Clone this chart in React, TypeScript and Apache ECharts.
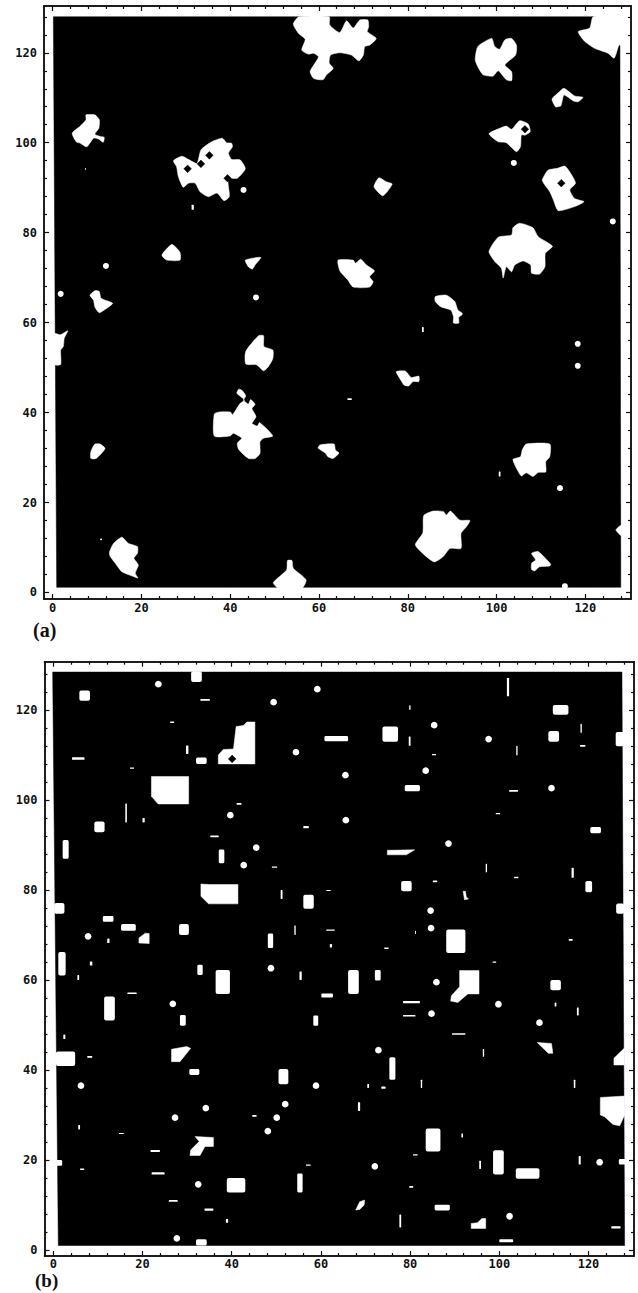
import React, { useEffect, useRef } from "react";
import * as echarts from "echarts";

type Pt = number[];

const majorTicks = [0, 20, 40, 60, 80, 100, 120];
const minorTicks = [4, 8, 12, 16, 24, 28, 32, 36, 44, 48, 52, 56, 64, 68, 72, 76, 84, 88, 92, 96, 104, 108, 112, 116, 124, 128];

const plateA: Pt[] = [[0.15, 128], [127.8, 128], [128, 1.15], [0.9, 1.15]];
const plateB: Pt[] = [[-0.14, 128.4], [127.5, 128.4], [128.1, 1], [1.13, 1]];

const blobsA: Pt[][] = [
  [[7.5,106.2],[9.5,106.2],[10.5,105.1],[10.4,103.2],[9.5,101.9],[10.7,101.4],[11.6,101.2],[11.4,100.1],[10.4,100.8],[9.2,101],[7.7,99.1],[6.2,99.9],[5.3,100.2],[4.4,102.1],[6.2,103.7],[7.5,105.1]],
  [[27.2,96],[29.1,97],[30.6,96.3],[32.5,95.4],[33.4,98.4],[35.8,100.2],[38.2,101],[39.2,100],[40.3,99.9],[40.5,99.1],[39.6,97.7],[40.3,96.3],[42.2,96.2],[43.4,94.2],[41.6,92.1],[40,92.1],[39.5,91.3],[39.8,88],[38.6,87.1],[37,88.8],[35.1,88],[33.2,89.1],[32.1,91],[30.6,91],[29.4,90.1],[28.3,92.5],[27.9,94.7]],
  [[24.6,75],[26.8,77.4],[28,76.5],[28.7,75.6],[28.7,73.9],[25.7,73.9]],
  [[43.4,73.9],[46.9,74.5],[45.6,72.8],[45,71.9],[44.1,72.4]],
  [[8.4,66.1],[9.5,67.1],[10.5,66.9],[10.9,65.4],[13.5,64.3],[12.2,63.2],[10.5,62.2],[9.5,63.5],[9.2,65]],
  [[62.3,128],[62.4,126.2],[64.7,124.5],[66.2,127.1],[67.7,125.5],[69.2,127.3],[71,127.3],[71.2,125.8],[70.9,124.7],[72.9,123.2],[71.4,121.7],[70.3,121.4],[70,119.5],[69,118.2],[67.3,119.5],[64.7,120],[62.6,119.5],[62.3,117.7],[63.2,116.5],[61.7,115.1],[60.9,114],[58.8,114.3],[58,115.8],[59.1,117.7],[59.9,119.1],[58.8,119.9],[57.6,119.7],[56.1,120.6],[56.9,123],[55.4,124.3],[54.2,126.4],[55.5,128]],
  [[95.8,121.4],[98.9,123.2],[99.6,121.4],[100.7,120.8],[101.9,122.9],[103.4,123.2],[104.5,121.7],[104.3,119.5],[101.9,117.3],[103.4,115.8],[103.4,113.8],[102.2,114],[100.4,116],[99.2,114.8],[97,115.1],[96,116.5],[95.2,118.4]],
  [[118.4,124.7],[121,125.5],[121.8,128],[128.4,128],[128.4,121.7],[127.6,121.7],[126.5,118.8],[125.1,119.9],[122.1,121],[119.9,122.5]],
  [[112.5,109.7],[113.9,111.1],[115.2,112.1],[117.6,110.4],[119.5,110.1],[118.4,109.1],[117.3,109.3],[115.2,110.6],[114.5,108.2],[113.3,108]],
  [[98.3,102],[100.7,103.2],[102.2,103.7],[103.4,103],[105.2,104.9],[107.1,104.2],[107.6,102.5],[106.5,101.7],[105.6,101.7],[105.4,99.1],[104.5,98],[102.2,100],[100.4,100.2]],
  [[110.3,91.7],[111.6,93.9],[113.7,94.3],[115.4,94.8],[116.7,93.2],[117.8,91],[116.5,89.5],[117.6,87.6],[119.7,86.9],[117.6,85.8],[113.9,84.9],[112.8,87.3],[112,89.1],[110.9,90.6]],
  [[98.3,75.8],[100.4,79],[103.4,79.5],[103.7,81.1],[105.2,82.1],[108.2,81.1],[109.4,79.1],[112.6,77],[111,75.4],[110.9,72.4],[109.7,70.8],[107.9,71],[107.7,72.8],[106,73.7],[104.1,72.8],[103.4,71.3],[102.2,72.4],[101.5,69.9],[101.1,72.1],[99.6,73.6]],
  [[72.4,90.2],[73.5,92.2],[75.2,91.3],[76.5,90.8],[74.4,88.2]],
  [[64.3,73.9],[67.7,73.9],[68.2,73.2],[69.4,74.1],[70.7,72.8],[72.5,71.5],[71.4,70.2],[72.2,69.1],[71.4,67.9],[67.7,67.9],[66.5,69.5],[64.7,71.5]],
  [[86.2,64.7],[86.2,65.8],[88.7,66.1],[90.6,64.7],[91.3,62.8],[92.3,62.1],[92.2,61.7],[91.5,61.2],[91.5,59.9],[90.3,59.9],[90.3,61.3],[89.7,62.8],[87.5,63.5]],
  [[0.3,57.6],[1.7,57.3],[3.4,58.2],[2.6,56.5],[2.4,54.7],[1.8,53.9],[1.8,50.7],[0.4,50.7]],
  [[43.5,53.6],[46.4,57.1],[47.5,57.1],[47.6,54.7],[49.6,53.9],[49.6,52],[48.6,50.2],[47.5,49.3],[46,50.6],[43.5,50.8]],
  [[36.4,39.7],[37.3,40.1],[40.1,40.1],[40.5,39.5],[42.2,42],[43.2,42.8],[41.5,44.3],[41.9,45.2],[42.6,45],[43.5,43.7],[43,42.8],[44.1,41.9],[44.6,42.9],[45.6,41.8],[44.9,40.9],[45.8,39.1],[44.9,37.6],[46.1,37],[46.6,37.8],[49.6,34.8],[47.5,34.3],[46.7,33.5],[46.7,30.9],[45.6,29.8],[44.1,29.8],[41.9,31.8],[41.6,33.2],[42.6,34.3],[40.7,35.4],[40,34.8],[36.4,34.8]],
  [[8.6,31.3],[9.5,33],[10.7,33],[11.8,32],[9.8,29.8],[8.6,29.8]],
  [[12.8,9],[13.7,10.9],[15.6,12.3],[17.1,10.9],[19.1,10.2],[19.1,8.7],[18.3,7.6],[19.3,6.1],[18.6,4.3],[19.2,3.2],[17.8,3.7],[15.6,4.6],[14.1,6.5],[12.9,8.1]],
  [[49.7,2.2],[52.7,5],[52.9,7.1],[53.9,7.1],[54.2,5.4],[57.1,2.8],[56.1,0.9],[50.9,0.9]],
  [[59.8,32.1],[60.2,32.8],[63.4,33],[63.7,31.7],[64.5,31],[63.2,29.8],[62,30.2],[61.4,31]],
  [[77.4,49.1],[79.5,49.2],[80.8,47.8],[82.5,48.1],[82.5,46.9],[81.2,46.9],[80.2,45.9],[79.2,46.1],[78.2,47.6]],
  [[103.7,29.6],[105.4,30.2],[105.8,31.7],[106.7,33],[112,33],[112,30.2],[111.1,29.1],[111.1,26.8],[109.4,26.7],[108.2,25.8],[106.7,26.6],[105.6,25.9],[104.5,27.6]],
  [[81.7,10.6],[83.4,13.3],[83.6,17.1],[85.7,18.1],[88,18],[88.7,17.2],[89.6,18.1],[91.7,16.1],[94,16],[93.2,14.6],[92,13.1],[92,9.8],[89.5,9.8],[88,8],[86,6.8],[83.8,8.3]],
  [[107.9,8.7],[109.4,9.1],[112.2,6.3],[112,5.9],[109.7,5.7],[108.6,4.8],[107.9,5.1],[107.9,6.5],[108.8,7.2]],
  [[126.9,13.9],[128.2,15],[128.2,12.6]],
];
const holesA: Pt[] = [[30.4,94.2],[33.4,95.3],[35.3,97.2],[39.4,92.1],[106.4,103],[114.6,91]];
const dotsA: Pt[] = [[43,89.5],[12,72.6],[1.8,66.4],[45.8,65.6],[103.9,95.5],[126.2,82.5],[118.3,55.3],[118.3,50.4],[114.3,23.2],[115.4,1.4]];
const barsA: Pt[] = [[31.3,86.2,31.8,85.1],[83.2,59,83.6,57.9],[66.4,43.2,67.4,42.8],[100.5,26.9,100.9,25.8],[7.3,94.4,7.5,94],[10.7,12,11.1,11.6]];

const blobsB: Pt[][] = [
  [[22,105.2],[30.35,105.2],[30.35,99.1],[23.5,99.1],[22,100.8]],
  [[37,110],[38.1,111.2],[40.4,111.3],[41,116.3],[42.6,116.5],[43.4,117.3],[45.2,117.3],[45.2,108],[37,108]],
  [[33.1,81.3],[35.1,81.2],[41.4,81.2],[41.4,76.9],[34.8,76.9],[33.1,78.6]],
  [[19.2,68.2],[19.2,69.3],[20.6,70.4],[21.5,70.3],[21.5,68.1]],
  [[26.5,44.6],[29.9,45.2],[30.8,44.8],[28.4,41.85],[26.5,41.85]],
  [[31.8,25.2],[35.9,25],[35.9,23],[34,23],[32.9,21],[30.65,21],[30.8,22.2],[32.7,24.1]],
  [[74.9,88.8],[81,88.9],[79.15,87.8],[74.9,87.8]],
  [[91.9,79.7],[92.4,79.7],[92.6,78.4],[93.1,78],[92.2,77.8]],
  [[91.1,62.07],[95.45,62.07],[95.45,56.9],[92.95,56.9],[90.7,55],[89.1,55.3],[89.25,56.5],[91.1,58.5]],
  [[108.5,46.1],[111.7,45.9],[112,43.7],[111,43.7]],
  [[125.7,41.1],[125.7,42.6],[128,44.8],[128,41.1]],
  [[122.65,33.9],[128.1,34.2],[128.1,30],[127,27.6],[125.5,27.9],[123.6,29.6],[122.65,30]],
  [[67.8,8.9],[68.7,10.7],[69.8,11.1],[69.7,10],[68.7,9]],
  [[93.7,5.9],[95.1,6.07],[96.1,7],[96.95,7],[96.95,4.8],[93.7,4.8]],
];
const holesB: Pt[] = [[40.1,109.1]];
const dotsB: Pt[] = [
  [23.55,125.7],[49.4,121.7],[54.4,110.6],[39.7,96.6],[45.5,89.4],[42.7,85.5],[7.8,69.7],[59.2,124.6],[48.8,62.6],
  [26.8,54.7],[6.2,36.5],[58.9,36.5],[52,32.4],[34.2,31.5],[27.3,29.4],[50.1,29.4],[48.1,26.4],[27.7,2.6],[32.5,14.6],
  [85.4,116.6],[97.6,113.5],[83.5,106.5],[65.5,105.5],[111.7,102.6],[65.6,95.5],[88.6,90.3],[84.6,75.4],[84.7,71.5],
  [85.9,59.5],[99.8,54.6],[84.8,52.5],[109,50.5],[72.9,44.4],[72.1,18.6],[122.5,19.5],[102.3,7.5],
];
const barsB: Pt[] = [
  [30.9,128.6,33.3,126.2],[5.84,124.3,8.23,122],[32.97,122.4,35.1,122],[26.2,117.4,27.1,117.1],[29.75,112.1,30.3,110.2],
  [4.2,109.5,7,108.9],[17.2,107.2,18.1,106.9],[32,109.4,34.4,108],[41.1,99.3,42.2,98.9],[16.15,99.2,16.5,95],[20,96,20.5,95],
  [9.2,95.2,11.5,92.8],[2.1,91.1,3.45,86.9],[35.2,92.1,37.1,91.7],[37.1,89,38.35,85.9],[49,85.2,50.2,84.9],[56.06,94.2,57.3,93.7],
  [50.98,80,51.4,78],[56.06,78.9,58.4,75.8],[0.2,77.1,2.5,74.7],[11.1,74.2,13.5,72.9],[15.2,72.4,18.5,70.9],[28.2,72.4,30.4,70],
  [12.1,69.2,12.6,68.2],[48.1,70.3,49.3,67.1],[54.05,72.1,54.35,70],[1.13,66.2,2.77,60.96],[8.2,64.1,8.75,63.2],[32.3,63.4,33.5,61.1],
  [5.4,61.1,5.8,60],[36.4,62.2,39.6,56.9],[16.6,57.2,18.7,56.9],[55.2,61.85,55.7,60],[11.4,56.3,13.8,51],[28.4,52.2,29.7,49.85],
  [58.3,52.1,59.4,49.8],[2.25,47.9,2.7,46.9],[0.6,44.1,4.9,40.9],[7.6,43.1,8.75,42.7],[30.5,40.2,32.75,38.9],[50.5,40.2,52.7,36.8],
  [5.6,27.8,6,26.8],[44.6,30,45.6,29.6],[14.7,26,15.8,25.8],[21.8,22.2,23.9,21.75],[0.6,20,2,18.7],[6,18.1,6.95,17.8],
  [22.05,17.25,24.95,16.75],[56.65,19,57.7,18.7],[38.9,16,43.05,12.8],[54.7,17,55.9,12.8],[25.9,11.1,27.9,10.7],[33.9,9.25,35.9,8.75],
  [38.7,6.9,39.2,6.05],[32,2.4,34.4,1],
  [101.7,127.1,102.2,123],[112,121.1,115.5,118.9],[79.8,121,80.1,120],[118.2,116.9,118.5,114.9],[73.8,116.3,77.3,112.9],
  [111,115.3,113.4,112.9],[60.8,114.2,66.1,113],[79.7,114.1,80.1,112],[118.1,112.2,119.3,111.8],[103.8,112,104.1,109.9],
  [84.9,110.2,85.8,109.9],[78.8,103.3,82.2,101.9],[102.2,102.2,104.2,101.8],[99.2,97.1,100.2,96.8],[120.4,94,122.8,92.6],
  [96.95,85.8,97.25,83.9],[116.2,84.9,116.7,82.7],[103.3,82.9,104.3,82.6],[85.1,82.1,86.1,81.7],[78,82,80.35,79.7],[119.3,82,120.8,79.5],
  [61.2,80,62.2,79.75],[126.1,115.1,128,111.9],[126.2,77,128,74.7],[61.2,71.2,63.1,70.9],[81.1,70.9,81.3,70.2],[88.1,71.2,92.4,66],
  [115.55,69.1,116.45,68.7],[62,68,62.5,67.2],[74.2,67.2,75.2,66.9],[98.5,64.1,99.3,63.8],
  [66.1,62.2,68.5,56.9],[72.1,62.2,73.4,59.85],[111.45,60,113.8,57.7],[60.1,57,62.7,56.1],[78.4,55.3,82.2,54.8],[112.4,55,112.8,54.1],
  [117.4,53.9,117.8,52.1],[78.4,52.2,81.2,51.85],[89.4,48.15,92.4,47.8],[96.3,44.66,96.6,42.96],[75.35,42.8,76.7,37.8],
  [82.4,37.8,82.7,36],[116.7,37.8,117.05,36],[70.4,36.9,70.8,36],[73.55,36.3,74.5,35.8],[68.3,32.8,68.8,30.9],[91.5,25.9,91.85,25],
  [83.5,27,86.8,21.9],[80.65,21.25,81.7,21],[98.6,22.15,101,16.8],[95.5,19.85,95.9,18],[117.8,20.9,118.25,19],[126.8,20.2,128.5,19],
  [103.7,18.15,109,15.85],[79.8,14.2,80.7,13.85],[85.5,10.07,88.9,8.8],[77.6,7.9,78,5],[125.1,5.3,127.2,4.8],[100,2.4,103.1,1.7],
];

const rangeA = { x: [-1.96, 130.3], y: [-1.45, 130.4] };
const rangeB = { x: [-1.97, 130.2], y: [-1.33, 130.7] };

const labelStyle = { fontFamily: "DejaVu Sans Mono", fontSize: 12, color: "#111", fontWeight: "bold" };

function axes(dim: "x" | "y", gridIndex: number, range: number[], margin: number) {
  const [near, far] = dim === "x" ? ["bottom", "top"] : ["left", "right"];
  const base = {
    type: "value", gridIndex, min: range[0], max: range[1], splitLine: { show: false },
    axisLine: { show: true, onZero: false, lineStyle: { color: "#111", width: 1.5 } },
  };
  const make = (position: string, values: number[], length: number, labels: boolean) => ({
    ...base,
    position,
    axisTick: { show: true, inside: true, length, customValues: values, lineStyle: { color: "#111", width: 1.2 } },
    axisLabel: labels
      ? { show: true, customValues: values, margin, ...labelStyle, formatter: (v: number) => String(v) }
      : { show: false },
  });
  return [
    make(near, majorTicks, 5, true),
    make(far, majorTicks, 5, false),
    make(near, minorTicks, 3, false),
    make(far, minorTicks, 3, false),
  ];
}

function polySeries(list: Pt[][], color: string, xAxisIndex: number, yAxisIndex: number, smooth = 0) {
  return {
    type: "custom", xAxisIndex, yAxisIndex, silent: true, clip: false,
    data: list.map((_, i) => [i]),
    renderItem: (params: any, api: any) => ({
      type: "polygon",
      shape: { points: list[params.dataIndex].map((p) => api.coord(p)), smooth },
      style: { fill: color, stroke: color, lineWidth: 0.5, lineJoin: "round" },
    }),
  };
}

function barSeries(list: Pt[], xAxisIndex: number, yAxisIndex: number) {
  return {
    type: "custom", xAxisIndex, yAxisIndex, silent: true, clip: false,
    data: list.map((_, i) => [i]),
    renderItem: (params: any, api: any) => {
      const b = list[params.dataIndex];
      const a = api.coord([b[0], b[1]]);
      const c = api.coord([b[2], b[3]]);
      const width = c[0] - a[0];
      const height = c[1] - a[1];
      return {
        type: "rect",
        shape: { x: a[0], y: a[1], width, height, r: Math.min(2, Math.min(width, height) * 0.25) },
        style: { fill: "#fff" },
      };
    },
  };
}

function dotSeries(list: Pt[], radius: number, xAxisIndex: number, yAxisIndex: number) {
  return {
    type: "custom", xAxisIndex, yAxisIndex, silent: true, clip: false,
    data: list.map((_, i) => [i]),
    renderItem: (params: any, api: any) => {
      const c = api.coord(list[params.dataIndex]);
      return { type: "circle", shape: { cx: c[0], cy: c[1], r: api.size([radius, 0])[0] }, style: { fill: "#fff" } };
    },
  };
}

function diamonds(list: Pt[], r: number): Pt[][] {
  return list.map(([x, y]) => [[x - r, y], [x, y + r], [x + r, y], [x, y - r]]);
}

export default function App() {
  const ref = useRef<HTMLDivElement>(null);
  useEffect(() => {
    const chart = echarts.init(ref.current!, null, { renderer: "svg" });
    chart.setOption({
      animation: false,
      backgroundColor: "#fff",
      grid: [
        { left: 44, top: 6, width: 587, height: 593 },
        { left: 44.5, top: 661.7, width: 589.5, height: 594.3 },
      ],
      xAxis: [...axes("x", 0, rangeA.x, 3), ...axes("x", 1, rangeB.x, 2)],
      yAxis: [...axes("y", 0, rangeA.y, 7), ...axes("y", 1, rangeB.y, 7)],
      series: [
        polySeries([plateA], "#000", 0, 0),
        polySeries(blobsA, "#fff", 0, 0, 0.2),
        polySeries(diamonds(holesA, 0.85), "#000", 0, 0),
        barSeries(barsA, 0, 0),
        dotSeries(dotsA, 0.68, 0, 0),
        polySeries([plateB], "#000", 4, 4),
        polySeries(blobsB, "#fff", 4, 4),
        polySeries(diamonds(holesB, 0.85), "#000", 4, 4),
        barSeries(barsB, 4, 4),
        dotSeries(dotsB, 0.75, 4, 4),
      ],
      graphic: [
        { type: "text", left: 33, top: 620, style: { text: "(a)", font: "bold 20px 'Liberation Serif'", fill: "#111" } },
        { type: "text", left: 35, top: 1271, style: { text: "(b)", font: "bold 19px 'Liberation Serif'", fill: "#111" } },
      ],
    });
    return () => chart.dispose();
  }, []);
  return <div ref={ref} style={{ position: "fixed", left: 0, top: 0, width: 638, height: 1293 }} />;
}
